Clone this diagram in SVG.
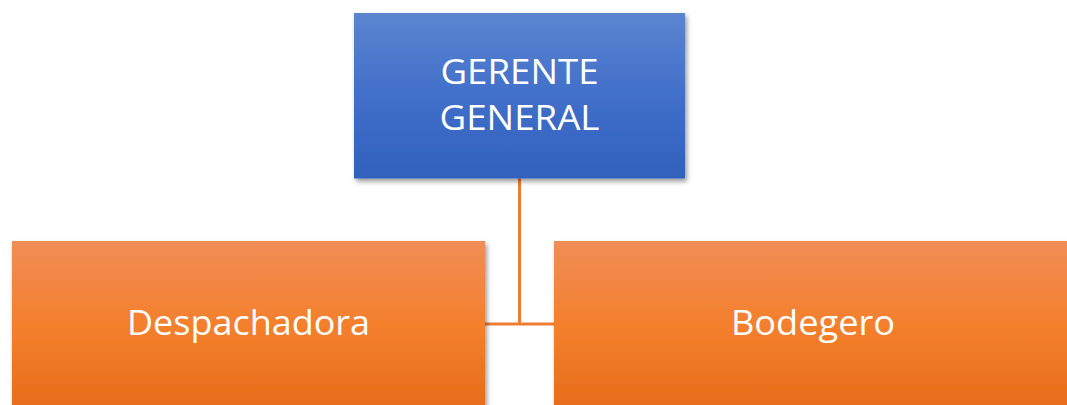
<svg xmlns="http://www.w3.org/2000/svg" width="1067" height="405" viewBox="0 0 1067 405">
  <style>
    .lbl { font-family: "Open Sans", "Liberation Sans", sans-serif; font-size: 35px; fill: #ffffff; text-anchor: middle; }
    .conn { stroke: #ed7d31; stroke-width: 3; fill: none; }
  </style>
  <defs>
    <linearGradient id="gBlue" x1="0" y1="0" x2="0" y2="1">
      <stop offset="0" stop-color="#5b85cf"/>
      <stop offset="0.5" stop-color="#416fca"/>
      <stop offset="1" stop-color="#3061bd"/>
    </linearGradient>
    <linearGradient id="gOrange" x1="0" y1="0" x2="0" y2="1">
      <stop offset="0" stop-color="#f08d57"/>
      <stop offset="0.5" stop-color="#f47f2b"/>
      <stop offset="1" stop-color="#e56b19"/>
    </linearGradient>
    <filter id="shadow" x="-10%" y="-10%" width="125%" height="130%">
      <feDropShadow dx="2" dy="3" stdDeviation="2.5" flood-color="#000" flood-opacity="0.4"/>
    </filter>
  </defs>
  <rect width="1067" height="405" fill="#ffffff"/>
  <g id="connectors">
    <line class="conn" x1="519.5" y1="178" x2="519.5" y2="324"/>
    <line class="conn" x1="485" y1="324" x2="554" y2="324"/>
  </g>
  <g id="gerente">
    <rect x="354" y="13" width="331" height="165.5" fill="url(#gBlue)" filter="url(#shadow)"/>
    <text class="lbl" x="519.5" y="84.3" textLength="158" lengthAdjust="spacingAndGlyphs">GERENTE</text>
    <text class="lbl" x="519.5" y="130" textLength="160" lengthAdjust="spacingAndGlyphs">GENERAL</text>
  </g>
  <g id="despachadora">
    <rect x="12" y="241" width="473" height="175" fill="url(#gOrange)" filter="url(#shadow)"/>
    <text class="lbl" x="248.5" y="335" textLength="243" lengthAdjust="spacingAndGlyphs">Despachadora</text>
  </g>
  <g id="bodegero">
    <rect x="554" y="241" width="518" height="175" fill="url(#gOrange)" filter="url(#shadow)"/>
    <text class="lbl" x="813" y="335" textLength="164" lengthAdjust="spacingAndGlyphs">Bodegero</text>
  </g>
</svg>
